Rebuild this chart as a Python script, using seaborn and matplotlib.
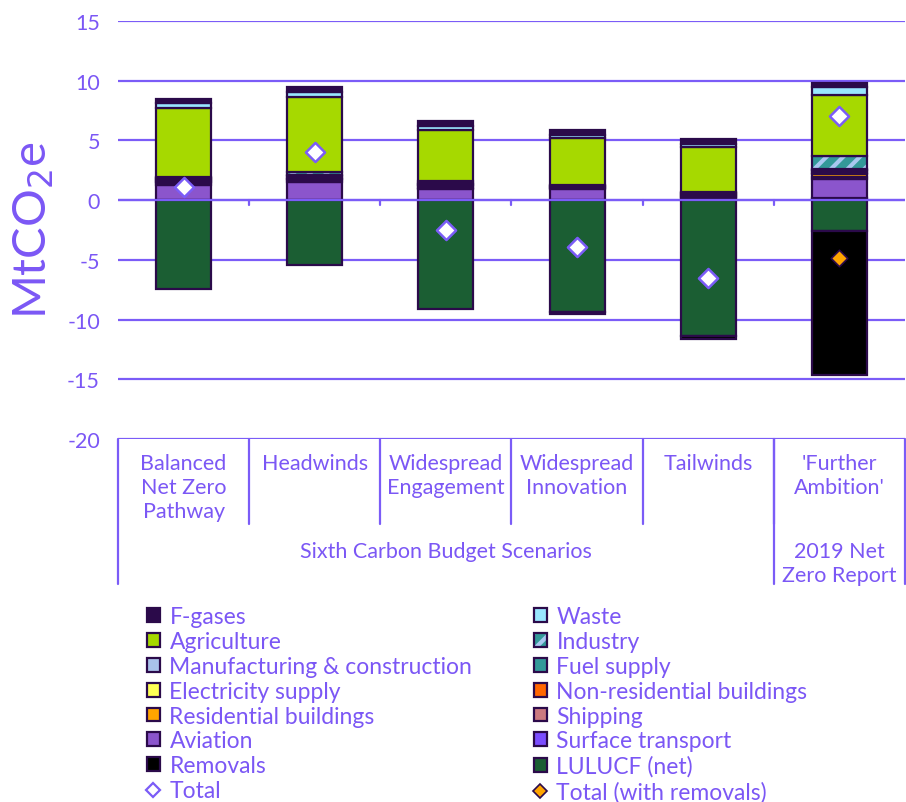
import numpy as np
import pandas as pd
import matplotlib
matplotlib.use("Agg")
import matplotlib.pyplot as plt
import matplotlib.transforms as mtransforms
from matplotlib.patches import Patch
from matplotlib.lines import Line2D
from matplotlib.legend_handler import HandlerTuple
import seaborn as sns

# ---------------- data ----------------
categories = ["Balanced Net Zero Pathway", "Headwinds", "Widespread Engagement",
              "Widespread Innovation", "Tailwinds", "'Further Ambition'"]
tick_labels = ["Balanced\nNet Zero\nPathway", "Headwinds", "Widespread\nEngagement",
               "Widespread\nInnovation", "Tailwinds", "'Further\nAmbition'"]
group_labels = ["Sixth Carbon Budget Scenarios", "2019 Net\nZero Report"]

# positive sectors (stacked bottom -> top)
surface_transport = [0.05, 0.05, 0.05, 0.05, 0.05, 0.15]
aviation          = [1.25, 1.45, 0.85, 0.85, 0.10, 1.60]
shipping          = [0.15, 0.15, 0.15, 0.10, 0.10, 0.20]
residential       = [0.10, 0.10, 0.10, 0.05, 0.05, 0.25]
non_residential   = [0.05, 0.05, 0.05, 0.05, 0.05, 0.10]
electricity       = [0.05, 0.05, 0.05, 0.05, 0.05, 0.15]
fuel_supply       = [0.10, 0.15, 0.10, 0.05, 0.10, 0.05]
manufacturing     = [0.10, 0.10, 0.10, 0.05, 0.10, 0.10]
industry          = [0.05, 0.25, 0.15, 0.05, 0.05, 1.10]
agriculture       = [5.80, 6.25, 4.25, 3.90, 3.80, 5.10]
waste             = [0.40, 0.45, 0.40, 0.25, 0.25, 0.70]
f_gases           = [0.40, 0.40, 0.40, 0.40, 0.40, 0.35]
# negative (stacked 0 -> down)
lulucf            = [-7.40, -5.40, -9.15, -9.35, -11.40, -2.60]
removals          = [0.00, 0.00, 0.00, -0.20, -0.20, -12.05]
# totals
total             = [1.06, 4.00, -2.50, -3.95, -6.55, 7.05]
total_with_removals = [np.nan, np.nan, np.nan, np.nan, np.nan, -4.85]

# ---------------- style ----------------
sns.set_style("white")
plt.rcParams["font.family"] = ["Lato", "DejaVu Sans"]
plt.rcParams["hatch.linewidth"] = 3.0
plt.rcParams["axes.unicode_minus"] = False
TXT = "#7B57F5"
GRID = "#7B5CF7"
EDGE = "#2B0A4A"

colors = {
    "F-gases": EDGE,
    "Waste": "#99E6FF",
    "Agriculture": "#A6D900",
    "Industry": "#339999",
    "Manufacturing & construction": "#A9C3EA",
    "Fuel supply": "#339999",
    "Electricity supply": "#FFFF55",
    "Non-residential buildings": "#FF6600",
    "Residential buildings": "#FFA500",
    "Shipping": "#CC7A80",
    "Aviation": "#8B55CC",
    "Surface transport": "#7B4DFF",
    "Removals": "#000000",
    "LULUCF (net)": "#1B5E33",
}

pos_series = [
    ("Surface transport", surface_transport),
    ("Aviation", aviation),
    ("Shipping", shipping),
    ("Residential buildings", residential),
    ("Non-residential buildings", non_residential),
    ("Electricity supply", electricity),
    ("Fuel supply", fuel_supply),
    ("Manufacturing & construction", manufacturing),
    ("Industry", industry),
    ("Agriculture", agriculture),
    ("Waste", waste),
    ("F-gases", f_gases),
]
neg_series = [("LULUCF (net)", lulucf), ("Removals", removals)]

fig = plt.figure(figsize=(9.06, 8.03), dpi=100)
ax = fig.add_axes([118 / 906, 1 - 440 / 803, (905 - 118) / 906, (440 - 22) / 803])

BW = 0.42


def draw_stack(series_list):
    base = np.zeros(len(categories))
    for name, vals in series_list:
        vals = np.asarray(vals, float)
        mask = vals != 0
        df = pd.DataFrame({"scenario": np.array(categories)[mask], "value": vals[mask]})
        bottoms = base[mask]
        if name == "Industry":
            sns.barplot(data=df, x="scenario", y="value", order=categories, color=colors[name],
                        saturation=1, width=BW, errorbar=None, bottom=bottoms,
                        edgecolor="#A8C8F0", hatch="//", linewidth=0, ax=ax, zorder=2)
            sns.barplot(data=df, x="scenario", y="value", order=categories, fill=False,
                        width=BW, errorbar=None, bottom=bottoms, color=EDGE,
                        edgecolor=EDGE, linewidth=1.6, ax=ax, zorder=2)
        else:
            sns.barplot(data=df, x="scenario", y="value", order=categories, color=colors[name],
                        saturation=1, width=BW, errorbar=None, bottom=bottoms,
                        edgecolor=EDGE, linewidth=1.6, ax=ax, zorder=2)
        base = base + vals


draw_stack(pos_series)
draw_stack(neg_series)

# totals
dft = pd.DataFrame({"scenario": categories, "value": total})
sns.scatterplot(data=dft, x="scenario", y="value", marker="D", s=95, color="white",
                edgecolor=GRID, linewidth=1.8, ax=ax, zorder=6)
dfr = pd.DataFrame({"scenario": categories, "value": total_with_removals}).dropna()
sns.scatterplot(data=dfr, x="scenario", y="value", marker="D", s=70, color="#FFA500",
                edgecolor=EDGE, linewidth=1.2, ax=ax, zorder=6)

# axes formatting
ax.set_xlim(-0.5, 5.5)
ax.set_ylim(-20, 15)
ax.set_yticks(np.arange(-20, 16, 5))
ax.set_xticks([])
ax.set_xlabel("")
ax.set_ylabel("")
for s in ax.spines.values():
    s.set_visible(False)
ax.set_axisbelow(True)
ax.yaxis.grid(True, color=GRID, linewidth=1.6)
ax.tick_params(axis="y", length=0, pad=13, labelsize=15.5, labelcolor=TXT)
ax.axhline(0, color=GRID, linewidth=1.6, zorder=4)

trans = mtransforms.blended_transform_factory(ax.transData, ax.transAxes)
# small ticks on zero line
for xb in [0.5, 1.5, 2.5, 3.5, 4.5]:
    ax.plot([xb, xb], [20 / 35, 20 / 35 - 0.012], transform=trans, color=GRID, lw=1.6,
            clip_on=False, zorder=4)
# category table lines
for xb in [0.5, 1.5, 2.5, 3.5, 4.5]:
    ax.plot([xb, xb], [0, -85 / 418], transform=trans, color=GRID, lw=1.6, clip_on=False)
for xb in [-0.5, 4.5, 5.5]:
    ax.plot([xb, xb], [0, -145 / 418], transform=trans, color=GRID, lw=1.6, clip_on=False)

for i, lab in enumerate(tick_labels):
    ax.text(i, -14 / 418, lab, transform=trans, ha="center", va="top", fontsize=15.5,
            color=TXT, linespacing=1.25)
ax.text(2.0, -102 / 418, group_labels[0], transform=trans, ha="center", va="top",
        fontsize=15.5, color=TXT)
ax.text(5.0, -102 / 418, group_labels[1], transform=trans, ha="center", va="top",
        fontsize=15.5, color=TXT, linespacing=1.25)

fig.text(34 / 906, 1 - 230 / 803, "MtCO$_2$e", rotation=90, ha="center", va="center",
         fontsize=34, color=TXT)


# legend
def sq(name):
    if name == "Industry":
        return (Patch(facecolor=colors[name], edgecolor="#A8C8F0", hatch="//", linewidth=0),
                Patch(facecolor="none", edgecolor=EDGE, linewidth=1.6))
    return Patch(facecolor=colors[name], edgecolor=EDGE, linewidth=1.6)


col1 = ["F-gases", "Agriculture", "Manufacturing & construction", "Electricity supply",
        "Residential buildings", "Aviation", "Removals"]
col2 = ["Waste", "Industry", "Fuel supply", "Non-residential buildings", "Shipping",
        "Surface transport", "LULUCF (net)"]
h1 = [sq(n) for n in col1] + [Line2D([], [], ls="", marker="D", markersize=7,
                                     markerfacecolor="white", markeredgecolor=GRID, mew=1.6)]
h2 = [sq(n) for n in col2] + [Line2D([], [], ls="", marker="D", markersize=7,
                                     markerfacecolor="#FFA500", markeredgecolor=EDGE, mew=1.2)]
l1 = col1 + ["Total"]
l2 = col2 + ["Total (with removals)"]
common = dict(frameon=False, fontsize=16.5, labelcolor=TXT, handlelength=0.56,
              handleheight=0.56, handletextpad=0.42, labelspacing=0.17, borderpad=0,
              borderaxespad=0, loc="upper left",
              handler_map={tuple: HandlerTuple(ndivide=1, pad=0)})
leg1 = fig.legend(h1, l1, bbox_to_anchor=(147 / 906, 1 - 607 / 803), **common)
leg2 = fig.legend(h2, l2, bbox_to_anchor=(534 / 906, 1 - 607 / 803), **common)

fig.savefig("out.png", dpi=100)
